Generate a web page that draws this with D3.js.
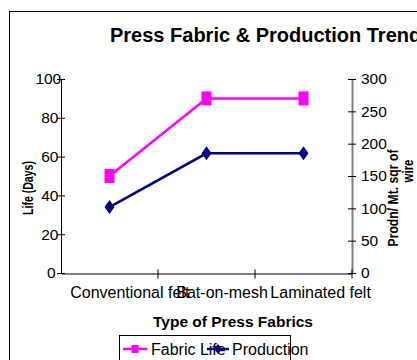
<!DOCTYPE html>
<html>
<head>
<meta charset="utf-8">
<script src="https://cdn.jsdelivr.net/npm/d3@7"></script>
<style>
	body { margin: 0; background: #fff; }
	svg { display: block; font-family: "Liberation Sans", Arial, sans-serif; }
</style>
</head>
<body>
<script>
var categories = ["Conventional felt", "Bat-on-mesh", "Laminated felt"];
var fabricLife = [50, 90, 90];
var production = [102, 185, 185];
var lifeTicks = [0, 20, 40, 60, 80, 100];
var prodTicks = [0, 50, 100, 150, 200, 250, 300];

function main(){
	var w = 417;
	var h = 360;

	var svg = d3.select("body")
				.append("svg")
				.attr("width", w)
				.attr("height", h);

	// outer chart border (runs off the right and bottom)
	svg.append("rect")
			.attr("x", 9.5)
			.attr("y", 11.5)
			.attr("width", 600)
			.attr("height", 600)
			.attr("fill", "none")
			.attr("stroke", "black");

	var xScale = d3.scaleBand()
					.domain(categories)
					.range([61, 352]);

	var yLeft = d3.scaleLinear()
					.domain([0, 100])
					.range([273, 79]);

	var yRight = d3.scaleLinear()
					.domain([0, 300])
					.range([273, 79]);

	var cx = function(i){ return xScale(categories[i]) + xScale.bandwidth()/2; };

	// left axis
	var gL = svg.append("g")
			.attr("transform", "translate(61,0)")
			.call(d3.axisLeft(yLeft).tickValues(lifeTicks).tickSizeOuter(0).tickPadding(0));
	gL.select(".domain").attr("stroke", "black");
	gL.selectAll(".tick line").attr("x1", -4).attr("x2", 4).attr("stroke", "black");
	gL.selectAll(".tick text")
			.attr("font-size", 15.5)
			.attr("fill", "black")
			.attr("font-family", "Liberation Sans, Arial, sans-serif")
			.attr("x", function(){ return -8.3 + 0.33*this.getComputedTextLength(); });

	// right axis
	var gR = svg.append("g")
			.attr("transform", "translate(352,0)")
			.call(d3.axisRight(yRight).tickValues(prodTicks).tickSizeOuter(0).tickPadding(0));
	gR.select(".domain").attr("stroke", "#808080").attr("stroke-width", 2);
	gR.selectAll(".tick line").attr("x1", -4).attr("x2", 4).attr("stroke", "black");
	gR.selectAll(".tick text")
			.attr("font-size", 15.5)
			.attr("fill", "black")
			.attr("font-family", "Liberation Sans, Arial, sans-serif")
			.attr("x", 9);

	// bottom axis
	var gB = svg.append("g")
			.attr("transform", "translate(0,273.5)")
			.call(d3.axisBottom(xScale).tickSize(0).tickPadding(0));
	gB.select(".domain").attr("stroke", "black");
	gB.selectAll(".tick text")
			.attr("font-size", 16)
			.attr("fill", "black")
			.attr("font-family", "Liberation Sans, Arial, sans-serif")
			.attr("dy", 0)
			.attr("y", 24)
			.attr("text-anchor", "start")
			.attr("x", function(){ return -0.33*this.getComputedTextLength(); });

	var bounds = categories.map(function(c){ return xScale(c); }).concat([xScale.range()[1]]);
	gB.selectAll(".bound")
			.data(bounds.slice(1))
			.enter()
			.append("line")
			.attr("x1", function(d){ return d; })
			.attr("x2", function(d){ return d; })
			.attr("y1", -4)
			.attr("y2", 5)
			.attr("stroke", "black");

	// series
	var lifeLine = d3.line()
					.x(function(d, i){ return cx(i); })
					.y(function(d){ return yLeft(d); });

	var prodLine = d3.line()
					.x(function(d, i){ return cx(i); })
					.y(function(d){ return yRight(d); });

	svg.append("path")
			.datum(production)
			.attr("d", prodLine)
			.attr("fill", "none")
			.attr("stroke", "#000080")
			.attr("stroke-width", 2.5);

	svg.selectAll(".diamond")
			.data(production)
			.enter()
			.append("path")
			.attr("d", function(d, i){
				var x = cx(i), y = yRight(d);
				return "M" + x + "," + (y-7) + "L" + (x+5) + "," + y + "L" + x + "," + (y+7) + "L" + (x-5) + "," + y + "Z";
			})
			.attr("fill", "#000080");

	svg.append("path")
			.datum(fabricLife)
			.attr("d", lifeLine)
			.attr("fill", "none")
			.attr("stroke", "#ff00ff")
			.attr("stroke-width", 2.5);

	svg.selectAll(".square")
			.data(fabricLife)
			.enter()
			.append("rect")
			.attr("x", function(d, i){ return cx(i) - 5; })
			.attr("y", function(d){ return yLeft(d) - 7; })
			.attr("width", 10)
			.attr("height", 14)
			.attr("fill", "#ff00ff");

	// titles
	svg.append("text")
			.attr("x", 110)
			.attr("y", 42)
			.text("Press Fabric & Production Trend")
			.attr("font-size", 20)
			.attr("font-weight", "bold");

	svg.append("text")
			.attr("x", 233)
			.attr("y", 327)
			.text("Type of Press Fabrics")
			.attr("text-anchor", "middle")
			.attr("font-size", 15.5)
			.attr("font-weight", "bold");

	svg.append("text")
			.attr("transform", "translate(33,188) rotate(-90)")
			.text("Life (Days)")
			.attr("text-anchor", "middle")
			.attr("font-size", 15)
			.attr("font-weight", "bold")
			.attr("textLength", 54)
			.attr("lengthAdjust", "spacingAndGlyphs");

	svg.append("text")
			.attr("transform", "translate(398,198) rotate(-90)")
			.text("Prodn/ Mt. sqr of")
			.attr("text-anchor", "middle")
			.attr("font-size", 15)
			.attr("font-weight", "bold")
			.attr("textLength", 97)
			.attr("lengthAdjust", "spacingAndGlyphs");

	svg.append("text")
			.attr("transform", "translate(413,171) rotate(-90)")
			.text("wire")
			.attr("text-anchor", "middle")
			.attr("font-size", 15)
			.attr("font-weight", "bold")
			.attr("textLength", 23)
			.attr("lengthAdjust", "spacingAndGlyphs");

	// legend
	var legend = svg.append("g");
	legend.append("rect")
			.attr("x", 119.5)
			.attr("y", 335.5)
			.attr("width", 171)
			.attr("height", 60)
			.attr("fill", "white")
			.attr("stroke", "black");

	legend.append("line")
			.attr("x1", 123).attr("x2", 147)
			.attr("y1", 349).attr("y2", 349)
			.attr("stroke", "#ff00ff")
			.attr("stroke-width", 2.5);
	legend.append("rect")
			.attr("x", 131.5).attr("y", 345)
			.attr("width", 7).attr("height", 8)
			.attr("fill", "#ff00ff");
	legend.append("text")
			.attr("x", 151)
			.attr("y", 355)
			.text("Fabric Life")
			.attr("font-size", 16);

	legend.append("line")
			.attr("x1", 207).attr("x2", 229)
			.attr("y1", 349).attr("y2", 349)
			.attr("stroke", "#000080")
			.attr("stroke-width", 2.5);
	legend.append("path")
			.attr("d", "M218,344L222,349L218,354L214,349Z")
			.attr("fill", "#000080");
	legend.append("text")
			.attr("x", 232)
			.attr("y", 355)
			.text("Production")
			.attr("font-size", 16);
}

main();
</script>
</body>
</html>
